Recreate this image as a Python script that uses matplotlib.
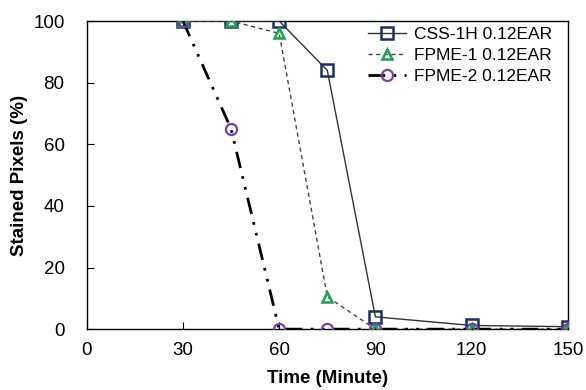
import matplotlib
matplotlib.use('Agg')
import matplotlib.pyplot as plt

# data
time_min = [30, 45, 60, 75, 90, 120, 150]
css_1h = [100, 100, 100, 84, 4, 1.2, 0.8]
fpme_1 = [100, 100, 96, 10.5, 0, 0, 0]
fpme_2 = [100, 65, 0, 0, 0, 0, 0]

plt.rcParams['font.family'] = ['Liberation Sans', 'DejaVu Sans']

fig = plt.figure(figsize=(5.86, 3.9), dpi=100)
ax = fig.add_axes([0.148, 0.156, 0.821, 0.790])

ax.plot(time_min, css_1h, color='#333333', lw=1.0, ls='-',
        marker='s', ms=8, mfc='none', mec='#1b2f66', mew=1.8,
        label='CSS-1H 0.12EAR', zorder=3)
ax.plot(time_min, fpme_1, color='#444444', lw=1.0, ls=(0, (3, 2.5)),
        marker='^', ms=7, mfc='none', mec='#1aa450', mew=1.8,
        label='FPME-1 0.12EAR', zorder=4)
ax.plot(time_min, fpme_2, color='black', lw=2.0, ls=(0, (6, 3, 1, 3, 1, 3)),
        marker='o', ms=8, mfc='none', mec='#7a3fa6', mew=1.6,
        label='FPME-2 0.12EAR', zorder=5)

ax.set_xlim(0, 150)
ax.set_ylim(0, 100)
ax.set_xticks([0, 30, 60, 90, 120, 150])
ax.set_yticks([0, 20, 40, 60, 80, 100])
ax.tick_params(direction='in', labelsize=13.5, length=5)
ax.tick_params(axis='y', pad=16)
ax.tick_params(axis='x', pad=9)
for s in ax.spines.values():
    s.set_linewidth(1.0)
for lab in ax.get_xticklabels() + ax.get_yticklabels():
    lab.set_clip_on(False)

ax.set_xlabel('Time (Minute)', fontsize=13.5, fontweight='bold', labelpad=8)
ax.set_ylabel('Stained Pixels (%)', fontsize=13.5, fontweight='bold', labelpad=4)

ax.legend(loc='upper right', bbox_to_anchor=(0.981, 1.005), frameon=False,
          fontsize=12.5, handlelength=2.2, handletextpad=0.45,
          labelspacing=0.35, borderaxespad=0)

fig.savefig('out.png', dpi=100)
